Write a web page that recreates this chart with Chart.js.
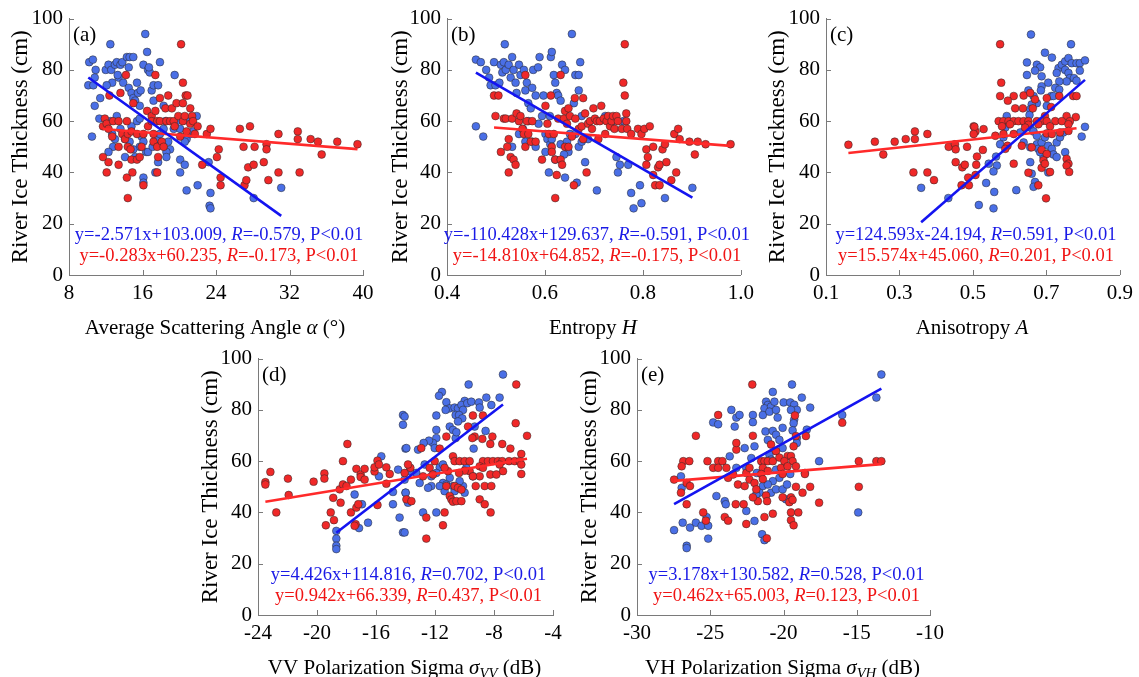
<!DOCTYPE html>
<html>
<head>
<meta charset="utf-8">
<title>River ice thickness vs polarimetric parameters</title>
<script src="https://cdn.jsdelivr.net/npm/chart.js@4.4.1/dist/chart.umd.min.js"></script>
<style>
  html, body { margin: 0; padding: 0; background: #fff; }
  #page { position: relative; width: 1139px; height: 677px; overflow: hidden; }
  .panel { position: absolute; }
</style>
</head>
<body>
<div id="page">
  <div class="panel" style="left:0px;top:0px"><canvas id="pa" width="380" height="340"></canvas></div>
  <div class="panel" style="left:380px;top:0px"><canvas id="pb" width="380" height="340"></canvas></div>
  <div class="panel" style="left:760px;top:0px"><canvas id="pc" width="379" height="340"></canvas></div>
  <div class="panel" style="left:190px;top:340px"><canvas id="pd" width="380" height="337"></canvas></div>
  <div class="panel" style="left:570px;top:340px"><canvas id="pe" width="380" height="337"></canvas></div>
</div>
<script>
// ---- data: [x, thickness in cm] ----
// (a) average scattering angle
const aBlue = [[10.2,83],[10.6,84],[10.1,74],[10.65,74],[10.9,80],[10.8,77],[10.8,66],[10.5,54],[11.4,69],[12.0,80],[12.5,90],[12.3,82],[12.6,80],[12.7,75],[12.1,74],[13.0,82],[13.2,83],[13.4,77],[13.3,78],[13.6,82],[13.8,83],[14.3,85],[14.6,85],[15.0,85],[14.5,81],[13.9,75],[14.5,73],[14.8,71],[15.0,69],[15.2,68],[15.4,75],[15.5,71],[15.7,66],[15.8,72],[16.1,82],[16.3,94],[16.5,87],[16.6,80],[16.8,79],[16.7,81],[17.0,72],[17.2,74],[17.2,68],[17.7,74],[18.3,66],[17.9,83],[19.5,78],[20.1,45],[20.1,40],[20.6,43],[20.8,33],[20.8,53],[21.1,60],[22.0,35],[23.2,44],[23.3,27],[23.4,26],[23.4,32],[28.1,30],[31.1,34],[11.3,61],[12.5,60],[13.2,62],[13.0,53],[12.8,50],[12.3,48],[12.7,55],[13.6,57],[14.1,53],[14.6,52],[14.8,58],[15.4,60],[15.7,61],[15.9,54],[16.1,52],[15.7,50],[16.4,48],[16.1,38],[16.1,36],[16.6,48],[17.1,50],[17.6,51],[17.6,53],[17.9,55],[18.3,57],[18.5,60],[18.8,52],[19.0,49],[18.6,48],[18.6,46],[17.7,44],[17.4,40],[19.4,57],[19.7,60],[20.1,57],[20.6,52],[21.2,55],[21.5,56],[21.9,62],[15.0,49],[15.2,46],[14.1,46]];
const aRed = [[11.7,58],[11.9,61],[12.1,59],[12.3,57],[11.7,46],[12.1,40],[12.3,44],[12.4,70],[12.7,54],[12.8,60],[13.4,60],[13.4,50],[13.4,43],[13.6,71],[13.8,55],[14.1,53],[14.2,78],[14.3,60],[14.4,55],[14.4,50],[14.3,38],[14.4,30],[14.8,56],[14.7,49],[14.8,45],[14.9,40],[15.0,67],[15.4,55],[15.4,45],[15.7,46],[15.9,50],[16.1,35],[16.1,55],[16.5,64],[16.6,58],[17.0,62],[17.0,60],[17.2,52],[17.2,55],[17.4,78],[17.4,64],[17.6,60],[17.6,50],[17.7,46],[17.6,40],[17.9,69],[17.9,60],[18.1,52],[18.3,50],[18.5,65],[18.6,60],[18.8,70],[19.0,60],[19.2,65],[19.4,60],[19.5,58],[19.7,67],[19.9,62],[20.1,54],[20.2,90],[20.4,75],[20.4,67],[20.4,60],[20.6,62],[20.7,70],[20.8,56],[20.9,70],[21.2,65],[21.2,59],[21.4,62],[21.5,60],[21.7,55],[22.0,58],[22.5,43],[23.0,55],[23.4,57],[24.1,46],[24.3,49],[24.5,38],[24.5,35],[26.6,57],[27.0,50],[27.1,35],[27.3,37],[27.5,42],[27.7,58],[28.1,43],[28.2,50],[29.2,44],[29.5,51],[29.5,49],[29.7,37],[30.8,55],[30.8,40],[32.9,56],[32.9,53],[33.1,40],[34.3,53],[35.1,52],[35.5,47],[37.2,52],[39.4,51]];

// (b) entropy
const bBlue = [[0.459,84],[0.469,83],[0.480,80],[0.486,77],[0.489,74],[0.496,83],[0.499,74],[0.507,75],[0.510,82],[0.513,79],[0.516,83],[0.518,90],[0.520,80],[0.526,82],[0.530,77],[0.533,85],[0.536,80],[0.540,75],[0.542,71],[0.547,82],[0.550,78],[0.557,80],[0.560,72],[0.563,75],[0.566,67],[0.571,65],[0.574,73],[0.576,80],[0.581,70],[0.586,81],[0.589,85],[0.594,62],[0.597,70],[0.601,55],[0.605,53],[0.608,40],[0.610,62],[0.612,85],[0.614,87],[0.618,78],[0.621,75],[0.624,71],[0.627,70],[0.632,68],[0.635,82],[0.641,80],[0.645,50],[0.648,48],[0.655,94],[0.659,67],[0.662,78],[0.669,78],[0.669,72],[0.672,83],[0.665,36],[0.675,62],[0.682,44],[0.688,53],[0.641,38],[0.706,33],[0.723,62],[0.736,58],[0.746,46],[0.749,40],[0.753,43],[0.760,60],[0.770,43],[0.776,32],[0.781,26],[0.794,35],[0.797,28],[0.845,30],[0.901,34],[0.459,58],[0.474,54],[0.533,50],[0.547,55],[0.555,57],[0.560,52],[0.566,60],[0.574,52],[0.581,50],[0.587,59],[0.601,48],[0.611,51],[0.614,53],[0.621,45],[0.632,51],[0.639,47],[0.645,52],[0.651,55],[0.662,55],[0.669,50],[0.675,52]];
const bRed = [[0.496,70],[0.499,62],[0.505,70],[0.510,48],[0.516,61],[0.520,61],[0.523,50],[0.526,53],[0.526,40],[0.530,46],[0.533,61],[0.536,45],[0.540,43],[0.542,63],[0.547,60],[0.550,62],[0.554,57],[0.557,55],[0.560,78],[0.560,50],[0.563,60],[0.566,55],[0.571,52],[0.574,60],[0.581,52],[0.594,45],[0.601,66],[0.605,59],[0.608,55],[0.612,70],[0.614,50],[0.614,48],[0.618,55],[0.621,30],[0.621,45],[0.624,39],[0.627,61],[0.632,78],[0.632,45],[0.635,43],[0.639,61],[0.641,64],[0.641,50],[0.645,59],[0.648,65],[0.648,50],[0.651,62],[0.655,54],[0.659,35],[0.661,69],[0.662,61],[0.669,57],[0.675,58],[0.678,69],[0.678,53],[0.682,63],[0.685,40],[0.688,59],[0.692,60],[0.696,57],[0.699,65],[0.702,61],[0.706,60],[0.709,53],[0.712,60],[0.715,66],[0.720,61],[0.723,55],[0.726,60],[0.729,62],[0.733,58],[0.736,60],[0.739,62],[0.742,57],[0.746,62],[0.749,60],[0.757,57],[0.760,75],[0.763,90],[0.763,70],[0.766,63],[0.766,60],[0.768,57],[0.776,55],[0.790,57],[0.797,55],[0.803,57],[0.807,49],[0.810,46],[0.807,43],[0.814,58],[0.821,50],[0.821,39],[0.825,35],[0.831,42],[0.834,35],[0.834,43],[0.840,49],[0.845,51],[0.848,44],[0.858,37],[0.864,55],[0.868,40],[0.872,57],[0.875,53],[0.895,52],[0.906,47],[0.912,52],[0.928,51],[0.979,51]];

// (c) anisotropy
const cBlue = [[0.359,34],[0.433,30],[0.658,93.8],[0.767,90],[0.696,86.7],[0.715,84.8],[0.647,82.9],[0.674,82],[0.683,81],[0.669,79.7],[0.647,78],[0.651,72],[0.687,77.5],[0.687,73.6],[0.685,72],[0.705,75],[0.733,80.7],[0.728,78.8],[0.742,82],[0.751,83.3],[0.760,84.6],[0.769,82.6],[0.782,82.6],[0.791,82.6],[0.805,83.7],[0.751,80],[0.760,78.8],[0.764,76.8],[0.775,76.8],[0.782,75.8],[0.755,75.5],[0.791,79.7],[0.735,75.5],[0.724,73],[0.735,72.3],[0.713,69.8],[0.719,69.8],[0.701,66],[0.674,67],[0.665,69.8],[0.660,66.5],[0.656,64.6],[0.654,62.4],[0.642,59],[0.656,57.5],[0.665,56],[0.674,54.3],[0.592,62],[0.588,57.5],[0.583,53.7],[0.574,51],[0.629,55.6],[0.638,51.7],[0.656,49.8],[0.674,51],[0.678,49.2],[0.687,51.7],[0.696,53.7],[0.705,50.4],[0.715,49.2],[0.728,51.7],[0.737,53.7],[0.746,55.6],[0.719,47],[0.728,46],[0.692,46],[0.683,47.9],[0.656,44],[0.660,39.5],[0.669,36.3],[0.665,34.4],[0.705,40],[0.751,47.9],[0.805,57.8],[0.796,54],[0.563,46.2],[0.543,43.4],[0.565,42.7],[0.556,40.4],[0.536,35.9],[0.558,32.4],[0.618,33.1],[0.516,27.3],[0.556,26]];
const cRed = [[0.161,50.8],[0.233,52],[0.256,47],[0.287,52],[0.317,53],[0.342,56],[0.342,53],[0.376,55],[0.338,40],[0.376,40],[0.394,37],[0.434,50],[0.451,51],[0.453,49],[0.484,50],[0.453,44],[0.471,42],[0.478,43],[0.487,38],[0.489,35],[0.469,35],[0.502,58],[0.507,56],[0.574,90],[0.577,75],[0.574,69.8],[0.611,69.8],[0.638,70],[0.595,68],[0.615,65],[0.636,65],[0.663,65],[0.669,68.5],[0.656,71],[0.701,69],[0.713,65.5],[0.696,62],[0.735,69.8],[0.773,69.8],[0.782,69.8],[0.755,62],[0.780,61.6],[0.570,60],[0.583,60],[0.597,60],[0.611,60],[0.624,60],[0.638,60],[0.651,60],[0.674,60],[0.687,60],[0.701,60],[0.724,60],[0.742,60],[0.764,60],[0.579,58],[0.601,58.8],[0.651,58.6],[0.678,58.8],[0.710,58],[0.760,58.8],[0.504,57.8],[0.529,56.9],[0.502,55],[0.561,54.3],[0.583,55],[0.611,55],[0.642,57.5],[0.701,55.2],[0.715,55],[0.737,55.6],[0.760,56.2],[0.527,48.8],[0.511,46.2],[0.509,43],[0.507,39],[0.594,50.4],[0.633,50.4],[0.660,49.8],[0.687,48.8],[0.701,47.2],[0.692,44.7],[0.687,41.8],[0.696,43.4],[0.710,40.2],[0.755,45.3],[0.760,43.4],[0.755,42.7],[0.762,40.2],[0.651,39.9],[0.678,35],[0.699,29.9],[0.611,43.4],[0.588,49.2]];

// (d) VV sigma (dB)
const dBlue = [[-18.69,32.8],[-18.69,29.8],[-18.69,27],[-18.69,25.7],[-17.45,47],[-16.95,43.2],[-17.15,33.9],[-16.54,36],[-15.8,54.1],[-15.64,61.9],[-14.85,48],[-14.85,43.2],[-14.5,56.7],[-14.17,78],[-14.17,74.2],[-14.4,38],[-14.17,32.2],[-14.0,64.9],[-14.06,52.8],[-14.0,47.7],[-7.39,93.8],[-9.72,89.9],[-11.53,87],[-11.73,85.5],[-9.99,83.5],[-11.23,83],[-11.0,80.6],[-11.28,80],[-10.67,80.9],[-10.44,80.6],[-10.21,81.9],[-10.1,80],[-9.81,82.6],[-9.54,83.2],[-9.02,82.9],[-8.52,84.8],[-8.18,81.9],[-7.62,84.8],[-8.97,80.9],[-10.6,78],[-10.37,78],[-10.15,76.7],[-10.44,75.5],[-11.91,77.8],[-11.91,72.2],[-11.0,73.5],[-10.78,72.2],[-10.6,69],[-10.55,71.3],[-11.91,69],[-12.14,67.1],[-12.41,68],[-12.77,67.1],[-13.15,64.5],[-13.94,65.1],[-14.06,77.4],[-12.02,65.1],[-9.38,64.9],[-8.57,71.8],[-9.31,73.5],[-12.7,58.7],[-11.68,57.6],[-11.46,58.7],[-13.27,55.4],[-13.72,56.1],[-11.91,55.4],[-12.25,54.1],[-11.46,51.5],[-11.23,50.9],[-11.0,53.5],[-10.78,50.3],[-10.67,48.3],[-11.35,48.3],[-11.68,50.3],[-12.25,50.3],[-12.47,49.6],[-10.1,50.3],[-9.99,47.7],[-13.04,51.5],[-13.99,47.7],[-13.83,43.8],[-12.81,40],[-11.91,40],[-14.06,32.2],[-9.88,57.4],[-9.43,54.1],[-10.33,52.2]];
const dRed = [[-23.5,51.8],[-23.5,50.9],[-23.16,55.8],[-22.76,40],[-21.97,53.2],[-21.92,46.8],[-20.23,52],[-19.5,55.2],[-19.5,53.2],[-19.4,35],[-19.07,40],[-18.85,37],[-18.9,45.7],[-18.46,49],[-18.24,50.9],[-18.24,60],[-17.94,66.7],[-18.0,50.3],[-18.4,43.8],[-17.7,52.8],[-17.33,57],[-17.7,40],[-17.33,41.9],[-17.2,43.2],[-17.38,35.4],[-17.45,34.8],[-17.04,54.8],[-17.04,53.8],[-16.77,57],[-16.77,52.8],[-16.1,56],[-16.1,57.6],[-15.9,60.2],[-15.8,58.7],[-15.3,57.6],[-15.3,51.2],[-15.07,55],[-15.9,42.9],[-6.49,89.9],[-6.53,74.8],[-5.76,69.9],[-7.44,66.7],[-6.89,64.9],[-6.15,62.8],[-8.79,68.7],[-8.25,66.7],[-8.11,69.6],[-9.31,69.6],[-9.47,69],[-9.76,73.5],[-9.43,77.8],[-8.75,77.8],[-11.23,69.6],[-11.68,64.9],[-12.93,65.1],[-10.78,61.9],[-10.67,60],[-10.33,60],[-9.99,60],[-9.65,60],[-8.75,60],[-8.41,60],[-8.07,60],[-7.73,60],[-7.44,60],[-6.98,60],[-6.6,60],[-6.26,60],[-6.15,58.7],[-6.15,55],[-7.62,58.7],[-8.97,58],[-8.75,57.4],[-7.39,56.1],[-8.25,54.8],[-7.84,54.8],[-8.97,54.1],[-9.65,56.1],[-9.99,56.3],[-10.37,55.4],[-11.12,56.1],[-11.35,57.4],[-12.02,60],[-12.36,57.4],[-12.14,54.8],[-12.81,54.1],[-13.67,57.4],[-13.83,58.7],[-14.06,55.4],[-13.94,45.1],[-13.6,44.4],[-11.23,50.3],[-10.67,50.3],[-10.44,49.6],[-11.0,46.4],[-10.89,45.1],[-10.78,44.2],[-10.55,44.4],[-10.21,44.4],[-10.21,48.9],[-9.24,50.3],[-8.63,50.3],[-8.18,50.3],[-9.43,54.1],[-8.97,45.1],[-8.63,43.2],[-8.23,40],[-11.35,40],[-12.59,38],[-11.46,35],[-12.59,29.8]];

// (e) VH sigma (dB)
const eBlue = [[-27.47,33.1],[-26.61,27],[-26.61,26.1],[-26.88,36],[-26.38,34.1],[-25.98,36],[-25.59,34.8],[-25.14,34.8],[-25.14,29.8],[-25.25,38.2],[-27.0,54.1],[-26.95,49.6],[-24.8,75.1],[-24.46,74.4],[-23.56,80],[-23.22,77],[-23.0,78],[-23.33,73.5],[-24.58,46.4],[-24.01,44.4],[-23.94,43.2],[-23.67,61.9],[-23.22,57.4],[-22.65,65.1],[-22.54,57.4],[-22.09,78],[-22.09,75.2],[-21.98,65.8],[-22.2,61.2],[-21.82,55.4],[-21.41,50.3],[-21.19,83.2],[-21.07,81.9],[-21.3,80.6],[-20.85,81.3],[-21.41,78],[-20.96,79.3],[-20.73,87],[-20.62,83.2],[-20.51,80],[-20.4,77],[-21.23,71.6],[-21.07,68.3],[-20.73,71.8],[-20.51,70.3],[-20.28,68.3],[-20.06,65.1],[-20.96,62.5],[-20.85,60.6],[-20.51,56.7],[-20.28,53.5],[-20.73,52.2],[-21.07,50.9],[-21.64,47.7],[-21.86,47],[-20.85,47.7],[-20.51,49],[-20.06,49],[-21.46,31.5],[-21.3,29.2],[-22.54,40.6],[-21.98,36.7],[-13.32,93.8],[-13.66,84.8],[-15.99,78],[-19.42,89.9],[-18.75,84.8],[-18.18,80.9],[-19.99,82.9],[-19.54,82.9],[-19.27,82],[-19.09,80],[-19.49,80],[-19.27,76.2],[-19.31,74.8],[-20.06,73],[-19.38,72],[-18.41,72.3],[-19.09,69],[-19.09,67.1],[-17.57,60],[-18.54,55.4],[-19.54,55],[-19.76,50.9],[-19.83,45.1],[-14.9,40]];
const eRed = [[-27.47,52.8],[-26.84,60],[-26.43,60],[-26.95,58],[-26.61,51.5],[-26.38,50.3],[-27.0,47.7],[-26.61,43.2],[-25.98,69.9],[-25.48,40],[-25.3,36.8],[-25.19,60],[-24.8,57.4],[-24.46,60],[-24.46,57.4],[-24.17,60],[-23.9,57.4],[-24.46,78],[-24.01,38.2],[-23.78,36.8],[-23.26,43.2],[-23.22,64.5],[-23.22,67.1],[-23.78,53.5],[-23.44,54.8],[-23.11,50.9],[-22.65,50.3],[-22.54,55.4],[-22.32,57.4],[-22.13,89.9],[-22.09,69.9],[-22.72,43.2],[-22.54,35.5],[-22.32,52.8],[-21.98,51.5],[-21.86,49],[-21.75,44.4],[-22.09,45.9],[-21.52,60],[-21.3,60],[-21.07,60],[-20.73,60],[-21.41,57.4],[-21.07,56.2],[-21.52,55],[-21.41,53],[-21.19,46.6],[-21.12,44.4],[-21.3,38.2],[-21.14,29.9],[-20.85,66.5],[-20.51,63.9],[-20.28,61.4],[-20.17,57.4],[-20.06,45.9],[-20.73,39.5],[-15.99,75],[-19.22,77.8],[-18.47,69.8],[-19.15,69.8],[-19.31,65.8],[-19.72,62],[-19.49,62],[-19.94,60],[-19.38,60],[-19.15,58],[-20.06,55],[-19.72,58],[-18.54,55],[-18.18,50],[-19.15,50],[-18.7,47.7],[-19.49,45.9],[-19.6,44],[-19.38,44.9],[-17.57,43.8],[-19.49,40],[-18.99,40],[-19.49,37],[-19.31,35],[-14.86,60],[-14.86,50],[-13.66,60],[-13.32,60]];

// fitted lines (from the figure's equations)
const blueSlope = [-2.571, -110.428, 124.593, 4.426, 3.178];
const blueIntercept = [103.009, 129.637, -24.194, 114.816, 130.582];
const blueR = [-0.579, -0.591, 0.591, 0.702, 0.528];
const redSlope = [-0.283, -14.810, 15.574, 0.942, 0.462];
const redIntercept = [60.235, 64.852, 45.060, 66.339, 65.003];
const redR = [-0.173, -0.175, 0.201, 0.437, 0.123];

// axes
const xTicksA = [8, 16, 24, 32, 40];
const xTicksB = [0.4, 0.6, 0.8, 1.0];
const xTicksC = [0.1, 0.3, 0.5, 0.7, 0.9];
const xTicksD = [-24, -20, -16, -12, -8, -4];
const xTicksE = [-30, -25, -20, -15, -10];
const yTicks = [0, 20, 40, 60, 80, 100];
const panelLabels = ['(a)', '(b)', '(c)', '(d)', '(e)'];
const yTitle = 'River Ice Thickness (cm)';
// x titles as runs: [text, style]  n = normal, i = italic, s = italic subscript
const xTitles = [
  [['Average Scattering Angle ', 'n'], ['\u03b1', 'i'], [' (\u00b0)', 'n']],
  [['Entropy ', 'n'], ['H', 'i']],
  [['Anisotropy ', 'n'], ['A', 'i']],
  [['VV Polarization Sigma ', 'n'], ['\u03c3', 'i'], ['VV', 's'], [' (dB)', 'n']],
  [['VH Polarization Sigma ', 'n'], ['\u03c3', 'i'], ['VH', 's'], [' (dB)', 'n']]
];

const FONT = '"Liberation Serif", "Times New Roman", serif';
const BLUE_PT = '#4a6fe6';
const RED_PT = '#f02828';
const BLUE_LN = '#1414f0';
const RED_LN = '#ff2a2a';
const BLUE_TX = '#1a1ae6';
const RED_TX = '#f01414';
const AXIS = '#7a7a7a';

Chart.defaults.font.family = FONT;
Chart.defaults.color = '#000';

const panels = [
  { id: 'pa', blue: aBlue, red: aRed, ticks: xTicksA, dec: 0, area: { l: 69, t: 16, r: 363, b: 275 }, titleOff: 7 },
  { id: 'pb', blue: bBlue, red: bRed, ticks: xTicksB, dec: 1, area: { l: 67, t: 16, r: 363, b: 275 }, titleOff: 7 },
  { id: 'pc', blue: cBlue, red: cRed, ticks: xTicksC, dec: 1, area: { l: 66, t: 16, r: 361, b: 275 }, titleOff: 4 },
  { id: 'pd', blue: dBlue, red: dRed, ticks: xTicksD, dec: 0, area: { l: 68, t: 17, r: 363, b: 275 }, titleOff: 7 },
  { id: 'pe', blue: eBlue, red: eRed, ticks: xTicksE, dec: 0, area: { l: 67, t: 17, r: 362, b: 275 }, titleOff: 6 }
];

function toPts(arr) {
  return arr.map(p => ({ x: p[0], y: p[1] }));
}

function fitLine(arr, slope, intercept) {
  const xs = arr.map(p => p[0]);
  const lo = Math.min(...xs), hi = Math.max(...xs);
  return [{ x: lo, y: slope * lo + intercept }, { x: hi, y: slope * hi + intercept }];
}

function eqRuns(slope, intercept, r) {
  const s = slope.toFixed(3);
  const c = (intercept < 0 ? '-' : '+') + Math.abs(intercept).toFixed(3);
  return [['y=' + s + 'x' + c + ', ', 'n'], ['R', 'i'], ['=' + r.toFixed(3) + ', P<0.01', 'n']];
}

function runFont(style, size) {
  if (style === 's') return 'italic ' + (size * 0.7).toFixed(1) + 'px ' + FONT;
  return (style === 'i' ? 'italic ' : '') + size + 'px ' + FONT;
}

function drawRuns(ctx, runs, x, y, align, size, color) {
  let total = 0;
  const widths = runs.map(r => {
    ctx.font = runFont(r[1], size);
    const w = ctx.measureText(r[0]).width;
    total += w;
    return w;
  });
  let cx = align === 'center' ? x - total / 2 : x;
  ctx.fillStyle = color;
  ctx.textAlign = 'left';
  ctx.textBaseline = 'middle';
  runs.forEach((r, i) => {
    ctx.font = runFont(r[1], size);
    ctx.fillText(r[0], cx, r[1] === 's' ? y + size * 0.3 : y);
    cx += widths[i];
  });
}

function panelPlugin(i) {
  return {
    id: 'panelText' + i,
    afterDraw(chart) {
      const ctx = chart.ctx;
      const a = chart.chartArea;
      const xs = chart.scales.x, ys = chart.scales.y;
      ctx.save();
      // inward tick marks
      ctx.strokeStyle = AXIS;
      ctx.lineWidth = 1;
      ctx.beginPath();
      xs.ticks.forEach((t, k) => {
        if (k === 0) return;
        const px = Math.round(xs.getPixelForValue(t.value)) + 0.5;
        ctx.moveTo(px, a.bottom);
        ctx.lineTo(px, a.bottom - 5);
      });
      ys.ticks.forEach((t, k) => {
        if (k === 0) return;
        const py = Math.round(ys.getPixelForValue(t.value)) + 0.5;
        ctx.moveTo(a.left, py);
        ctx.lineTo(a.left + 5, py);
      });
      ctx.stroke();
      // panel label
      drawRuns(ctx, [[panelLabels[i], 'n']], a.left + 4, a.top + 17, 'left', 21, '#000');
      // equations
      const mid = (a.left + a.right) / 2 + 3;
      drawRuns(ctx, eqRuns(blueSlope[i], blueIntercept[i], blueR[i]), mid, a.bottom - 40, 'center', 18.5, BLUE_TX);
      drawRuns(ctx, eqRuns(redSlope[i], redIntercept[i], redR[i]), mid, a.bottom - 19, 'center', 18.5, RED_TX);
      // x axis title
      drawRuns(ctx, xTitles[i], (a.left + a.right) / 2 - 1, a.bottom + 53, 'center', 21, '#000');
      ctx.restore();
    }
  };
}

panels.forEach((p, i) => {
  const canvas = document.getElementById(p.id);
  const W = canvas.width, H = canvas.height;
  const ticks = p.ticks;
  new Chart(canvas, {
    type: 'scatter',
    data: {
      datasets: [
        { type: 'line', data: fitLine(p.blue, blueSlope[i], blueIntercept[i]), borderColor: BLUE_LN, borderWidth: 2.6, pointRadius: 0, fill: false, clip: false },
        { type: 'line', data: fitLine(p.red, redSlope[i], redIntercept[i]), borderColor: RED_LN, borderWidth: 2.6, pointRadius: 0, fill: false, clip: false },
        { data: toPts(p.red), backgroundColor: RED_PT, borderColor: 'rgba(40,40,40,0.85)', borderWidth: 0.6, pointRadius: 3.9, clip: false },
        { data: toPts(p.blue), backgroundColor: BLUE_PT, borderColor: 'rgba(40,40,40,0.85)', borderWidth: 0.6, pointRadius: 3.9, clip: false }
      ]
    },
    options: {
      responsive: false,
      animation: false,
      events: [],
      layout: { padding: { left: 0, top: p.area.t, right: W - p.area.r, bottom: 0 } },
      plugins: { legend: { display: false }, tooltip: { enabled: false } },
      scales: {
        x: {
          type: 'linear',
          min: ticks[0],
          max: ticks[ticks.length - 1],
          afterBuildTicks: s => { s.ticks = ticks.map(v => ({ value: v })); },
          afterFit: s => { s.height = H - p.area.b; },
          grid: { display: false, drawTicks: false },
          border: { display: true, color: AXIS, width: 1 },
          ticks: { color: '#000', font: { size: 21 }, padding: 6, maxRotation: 0, autoSkip: false,
                   callback: v => Number(v).toFixed(p.dec) }
        },
        y: {
          type: 'linear',
          min: 0,
          max: 100,
          afterBuildTicks: s => { s.ticks = yTicks.map(v => ({ value: v })); },
          afterFit: s => { s.width = p.area.l; },
          grid: { display: false, drawTicks: false },
          border: { display: true, color: AXIS, width: 1 },
          ticks: { color: '#000', font: { size: 21 }, padding: 6, autoSkip: false },
          title: { display: true, text: yTitle, color: '#000', font: { size: 23 }, padding: { top: p.titleOff, bottom: 0 } }
        }
      }
    },
    plugins: [panelPlugin(i)]
  });
});
</script>
</body>
</html>
